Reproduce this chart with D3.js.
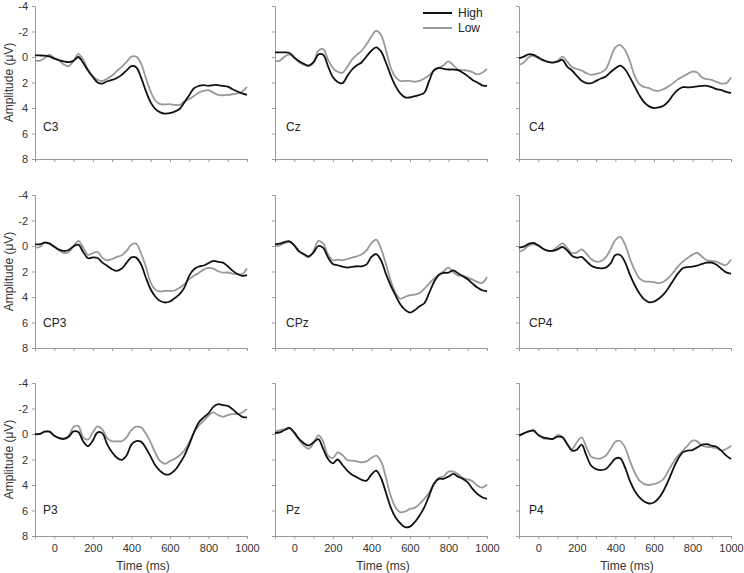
<!DOCTYPE html>
<html>
<head>
<meta charset="utf-8">
<script src="https://cdn.jsdelivr.net/npm/d3@7"></script>
<style>
  html, body { margin: 0; padding: 0; background: #fff; }
  svg { display: block; font-family: Arial, "Liberation Sans", Helvetica, sans-serif; }
</style>
</head>
<body>
<svg id="chart" width="744" height="573"></svg>
<script>
// ---------------- data ----------------
const times = [-100,-75,-50,-25,0,25,50,75,100,125,150,175,200,225,250,275,300,325,350,375,400,425,450,475,500,525,550,575,600,625,650,675,700,725,750,775,800,825,850,875,900,925,950,975,1000];

const electrodes = ["C3","Cz","C4","CP3","CPz","CP4","P3","Pz","P4"];
const seriesNames = ["High","Low"];

const highC3 = [-0.13,-0.12,-0.1,-0.05,0.13,0.25,0.35,0.4,0.3,0.0,0.46,1.06,1.57,2.0,2.09,1.9,1.8,1.65,1.4,1.05,0.72,0.8,1.6,2.66,3.56,4.08,4.34,4.44,4.41,4.28,4.08,3.56,3.0,2.45,2.27,2.2,2.27,2.2,2.2,2.27,2.32,2.53,2.7,2.86,2.97];
const lowC3  = [0.28,0.3,0.08,-0.18,0.08,0.28,0.6,0.72,0.3,-0.23,0.2,1.0,1.5,1.78,1.88,1.7,1.45,1.1,0.77,0.39,-0.03,-0.03,0.5,1.63,2.7,3.43,3.7,3.72,3.7,3.75,3.77,3.5,3.3,3.05,2.79,2.66,2.6,2.79,2.97,3.0,2.97,2.92,2.86,2.7,2.35];

const highCz = [-0.36,-0.36,-0.36,-0.31,0.03,0.34,0.54,0.67,0.41,-0.2,-0.18,0.72,1.57,1.96,2.06,1.5,0.98,0.65,0.41,-0.05,-0.49,-0.75,-0.44,0.41,1.42,2.27,2.86,3.17,3.17,3.07,2.97,2.79,1.88,1.03,0.85,0.93,0.98,0.98,1.03,1.24,1.5,1.8,2.0,2.22,2.27];
const lowCz  = [0.34,0.28,-0.03,-0.18,0.08,0.41,0.6,0.72,0.46,-0.5,-0.62,0.2,0.85,1.16,1.24,0.77,0.2,-0.18,-0.49,-1.0,-1.6,-2.06,-1.73,-0.57,0.8,1.57,1.88,1.88,1.88,1.94,1.88,1.68,1.42,1.06,0.85,0.65,0.34,0.65,0.98,1.03,1.06,1.19,1.37,1.24,0.93];

const highC4 = [0.1,-0.03,-0.21,-0.16,0.03,0.23,0.39,0.44,0.36,0.22,0.75,1.06,1.48,1.87,2.05,2.05,1.87,1.69,1.53,1.19,0.88,0.68,0.96,1.58,2.31,3.01,3.56,3.87,4.0,3.95,3.82,3.48,2.96,2.57,2.36,2.39,2.36,2.31,2.26,2.26,2.36,2.52,2.6,2.73,2.83];
const lowC4  = [0.62,0.44,0.03,-0.08,0.1,0.29,0.39,0.42,0.31,-0.03,0.36,0.78,0.94,1.06,1.27,1.4,1.32,1.22,0.96,0.1,-0.75,-0.94,-0.55,0.31,1.48,2.13,2.36,2.44,2.62,2.65,2.52,2.31,2.05,1.74,1.53,1.32,1.14,1.22,1.61,1.74,1.79,1.95,2.08,2.05,1.61];

const highCP3 = [-0.13,-0.13,-0.26,-0.18,0.05,0.29,0.39,0.31,0.03,-0.1,0.47,0.96,0.89,0.94,1.3,1.56,1.82,1.95,1.77,1.33,0.89,0.91,1.43,2.47,3.39,3.98,4.32,4.43,4.35,4.09,3.78,3.26,2.34,1.82,1.61,1.53,1.35,1.17,1.25,1.3,1.59,1.93,2.19,2.34,2.29];
const lowCP3  = [0.13,0.08,-0.26,-0.23,0.08,0.34,0.55,0.47,0.0,-0.4,0.13,0.7,0.55,0.47,0.94,1.12,1.02,0.86,0.73,0.39,-0.1,-0.18,0.57,1.61,2.86,3.44,3.57,3.52,3.52,3.49,3.28,3.0,2.6,2.34,2.11,1.85,1.72,1.77,1.98,2.08,2.08,2.16,2.21,2.21,1.77];

const highCPz = [-0.13,-0.18,-0.31,-0.37,-0.05,0.42,0.63,0.81,0.5,0.0,0.15,0.89,1.41,1.51,1.62,1.7,1.64,1.59,1.59,1.44,0.86,0.63,1.12,2.17,3.08,3.86,4.57,5.01,5.22,5.04,4.73,4.49,3.68,2.82,2.27,2.11,2.09,1.91,2.14,2.38,2.61,2.95,3.26,3.47,3.55];
const lowCPz  = [0.03,-0.05,-0.23,-0.31,-0.05,0.42,0.68,0.89,0.39,-0.4,-0.2,0.65,1.12,1.07,1.12,1.02,0.91,0.81,0.65,0.34,-0.23,-0.5,0.21,1.38,2.69,3.66,4.13,3.99,3.86,3.81,3.68,3.34,2.95,2.56,2.25,1.98,1.7,2.06,2.3,2.33,2.48,2.64,2.82,2.9,2.43];

const highCP4 = [0.13,0.05,-0.16,-0.24,-0.05,0.21,0.37,0.39,0.26,0.08,0.34,0.76,0.92,0.85,1.2,1.54,1.7,1.75,1.7,1.36,0.71,0.71,1.26,2.23,3.06,3.72,4.19,4.42,4.37,4.14,3.8,3.3,2.7,2.15,1.75,1.65,1.62,1.54,1.41,1.31,1.31,1.47,1.78,2.07,2.17];
const lowCP4  = [0.45,0.29,-0.03,-0.13,-0.03,0.24,0.39,0.34,0.05,-0.21,0.16,0.55,0.52,0.26,0.6,1.02,1.23,1.18,0.89,0.26,-0.47,-0.71,-0.13,0.97,1.88,2.54,2.77,2.8,2.83,2.91,2.8,2.51,2.07,1.6,1.23,0.94,0.68,0.55,0.84,1.13,1.18,1.23,1.41,1.49,1.05];

const highP3 = [0,0,-0.18,-0.18,0.13,0.31,0.39,0.21,-0.2,-0.15,0.57,0.96,0.52,-0.13,-0.05,0.83,1.43,1.87,2.03,1.69,0.83,0.55,0.6,1.09,1.77,2.47,2.91,3.17,3.14,2.86,2.34,1.69,0.83,-0.13,-0.91,-1.3,-1.61,-2.13,-2.34,-2.26,-2.21,-1.95,-1.61,-1.35,-1.3];
const lowP3  = [0.08,0,-0.18,-0.18,0.13,0.34,0.34,0.13,-0.55,-0.62,0.26,0.44,-0.13,-0.6,-0.35,0.35,0.57,0.57,0.57,0.26,-0.31,-0.57,-0.52,-0.05,0.65,1.51,2.13,2.34,2.13,1.95,1.69,1.3,0.65,-0.13,-0.65,-1.04,-1.43,-1.69,-1.48,-1.35,-1.48,-1.56,-1.56,-1.69,-1.95];

const highPz = [-0.08,-0.13,-0.31,-0.47,-0.13,0.39,0.73,0.91,0.65,0.4,1.17,1.96,2.3,2.0,2.43,2.87,3.19,3.39,3.6,3.66,3.19,2.87,3.45,4.57,5.74,6.53,7.0,7.31,7.26,6.92,6.4,5.74,4.83,3.92,3.52,3.52,3.34,3.13,3.34,3.52,3.79,4.31,4.7,4.96,5.09];
const lowPz  = [-0.18,-0.31,-0.39,-0.47,-0.05,0.47,0.91,1.17,0.73,0.1,0.6,1.7,1.9,1.45,1.65,2.04,2.09,2.15,2.22,2.15,1.88,1.7,2.14,3.39,4.83,5.74,6.14,6.08,5.87,5.79,5.48,5.09,4.57,3.86,3.44,3.34,2.95,2.95,3.15,3.45,3.55,3.7,4.05,4.2,3.95];

const highP4 = [0.13,-0.05,-0.21,-0.26,0.08,0.26,0.34,0.39,0.21,0.26,0.79,1.31,1.23,0.84,1.7,2.49,2.75,2.83,2.75,2.36,1.93,1.9,2.62,3.66,4.45,4.97,5.29,5.45,5.37,5.03,4.45,3.66,2.75,1.96,1.44,1.31,1.26,1.05,0.84,0.79,0.92,1.0,1.31,1.7,1.96];
const lowP4  = [0.08,-0.05,-0.18,-0.31,0.08,0.34,0.39,0.39,0.08,0.21,0.79,1.18,0.65,0.26,1.05,1.78,1.91,1.91,1.7,1.18,0.6,0.55,1.05,2.09,3.0,3.66,3.93,4.0,3.93,3.8,3.53,2.88,2.23,1.7,1.31,0.92,0.52,0.58,0.92,1.0,1.05,1.1,1.31,1.18,0.92];

const highSeries = [highC3, highCz, highC4, highCP3, highCPz, highCP4, highP3, highPz, highP4];
const lowSeries  = [lowC3, lowCz, lowC4, lowCP3, lowCPz, lowCP4, lowP3, lowPz, lowP4];

const yTicks = [-4,-2,0,2,4,6,8];
const xTicks = [-100,0,100,200,300,400,500,600,700,800,900,1000];
const xTickLabels = [0,200,400,600,800,1000];
const yTitle = "Amplitude (\u03BCV)";
const xTitle = "Time (ms)";

// ---------------- layout ----------------
const colX = [35, 275, 519];
const rowY = [6, 195, 383];
const panelW = 212, panelH = 153;
const labelDX = [8, 11, 10];
const labelDY = [121, 128, 127];
const axisColor = "#9a9a9a";
const textColor = "#333";
const colors = { High: "#111111", Low: "#999999" };

const svg = d3.select("#chart");

electrodes.forEach((name, i) => {
  const r = Math.floor(i / 3), c = i % 3;
  const x0 = colX[c], y0 = rowY[r];
  const x = d3.scaleLinear().domain([-100, 1000]).range([x0, x0 + panelW]);
  const y = d3.scaleLinear().domain([-4, 8]).range([y0, y0 + panelH]);
  const g = svg.append("g");

  // y axis
  const yAxis = d3.axisLeft(y).tickValues(yTicks).tickSize(3).tickPadding(4)
    .tickFormat(c === 0 ? (d => String(d)) : () => "");
  const ya = g.append("g").attr("transform", `translate(${x0},0)`).call(yAxis);
  // x axis
  const xAxis = d3.axisBottom(x).tickValues(xTicks).tickSize(3).tickPadding(5)
    .tickFormat(d => (r === 2 && xTickLabels.includes(d)) ? String(d) : "");
  const xa = g.append("g").attr("transform", `translate(0,${y0 + panelH})`).call(xAxis);

  [ya, xa].forEach(a => {
    a.select(".domain").attr("stroke", axisColor).attr("stroke-width", 1);
    a.selectAll(".tick line").attr("stroke", axisColor);
    a.selectAll(".tick text").attr("fill", textColor).style("font-size", "11px")
      .style("font-family", "Arial, 'Liberation Sans', sans-serif");
  });

  const line = d3.line()
    .x((d, k) => x(times[k]))
    .y(d => y(d))
    .curve(d3.curveCatmullRom.alpha(0.5));

  g.append("path").datum(lowSeries[i])
    .attr("fill", "none").attr("stroke", colors.Low).attr("stroke-width", 1.8)
    .attr("stroke-linejoin", "round").attr("d", line);
  g.append("path").datum(highSeries[i])
    .attr("fill", "none").attr("stroke", colors.High).attr("stroke-width", 1.8)
    .attr("stroke-linejoin", "round").attr("d", line);

  g.append("text").attr("x", x0 + labelDX[c]).attr("y", y0 + labelDY[r])
    .attr("dy", "0.35em").attr("fill", "#222").style("font-size", "12px").text(name);

  if (c === 0) {
    svg.append("text")
      .attr("transform", `translate(9,${y0 + panelH / 2}) rotate(-90)`)
      .attr("text-anchor", "middle").attr("dy", "0.35em")
      .attr("fill", textColor).style("font-size", "12px").text(yTitle);
  }
  if (r === 2) {
    svg.append("text").attr("x", x0 + panelW / 2 + 2).attr("y", 570)
      .attr("text-anchor", "middle").attr("fill", textColor)
      .style("font-size", "12px").text(xTitle);
  }
});

// legend (in Cz panel)
const legend = svg.append("g");
seriesNames.forEach((s, k) => {
  const ly = 13 + k * 15;
  legend.append("line").attr("x1", 423).attr("x2", 452).attr("y1", ly).attr("y2", ly)
    .attr("stroke", colors[s]).attr("stroke-width", 2);
  legend.append("text").attr("x", 458).attr("y", ly).attr("dy", "0.35em")
    .attr("fill", "#222").style("font-size", "12px").text(s);
});
</script>
</body>
</html>
